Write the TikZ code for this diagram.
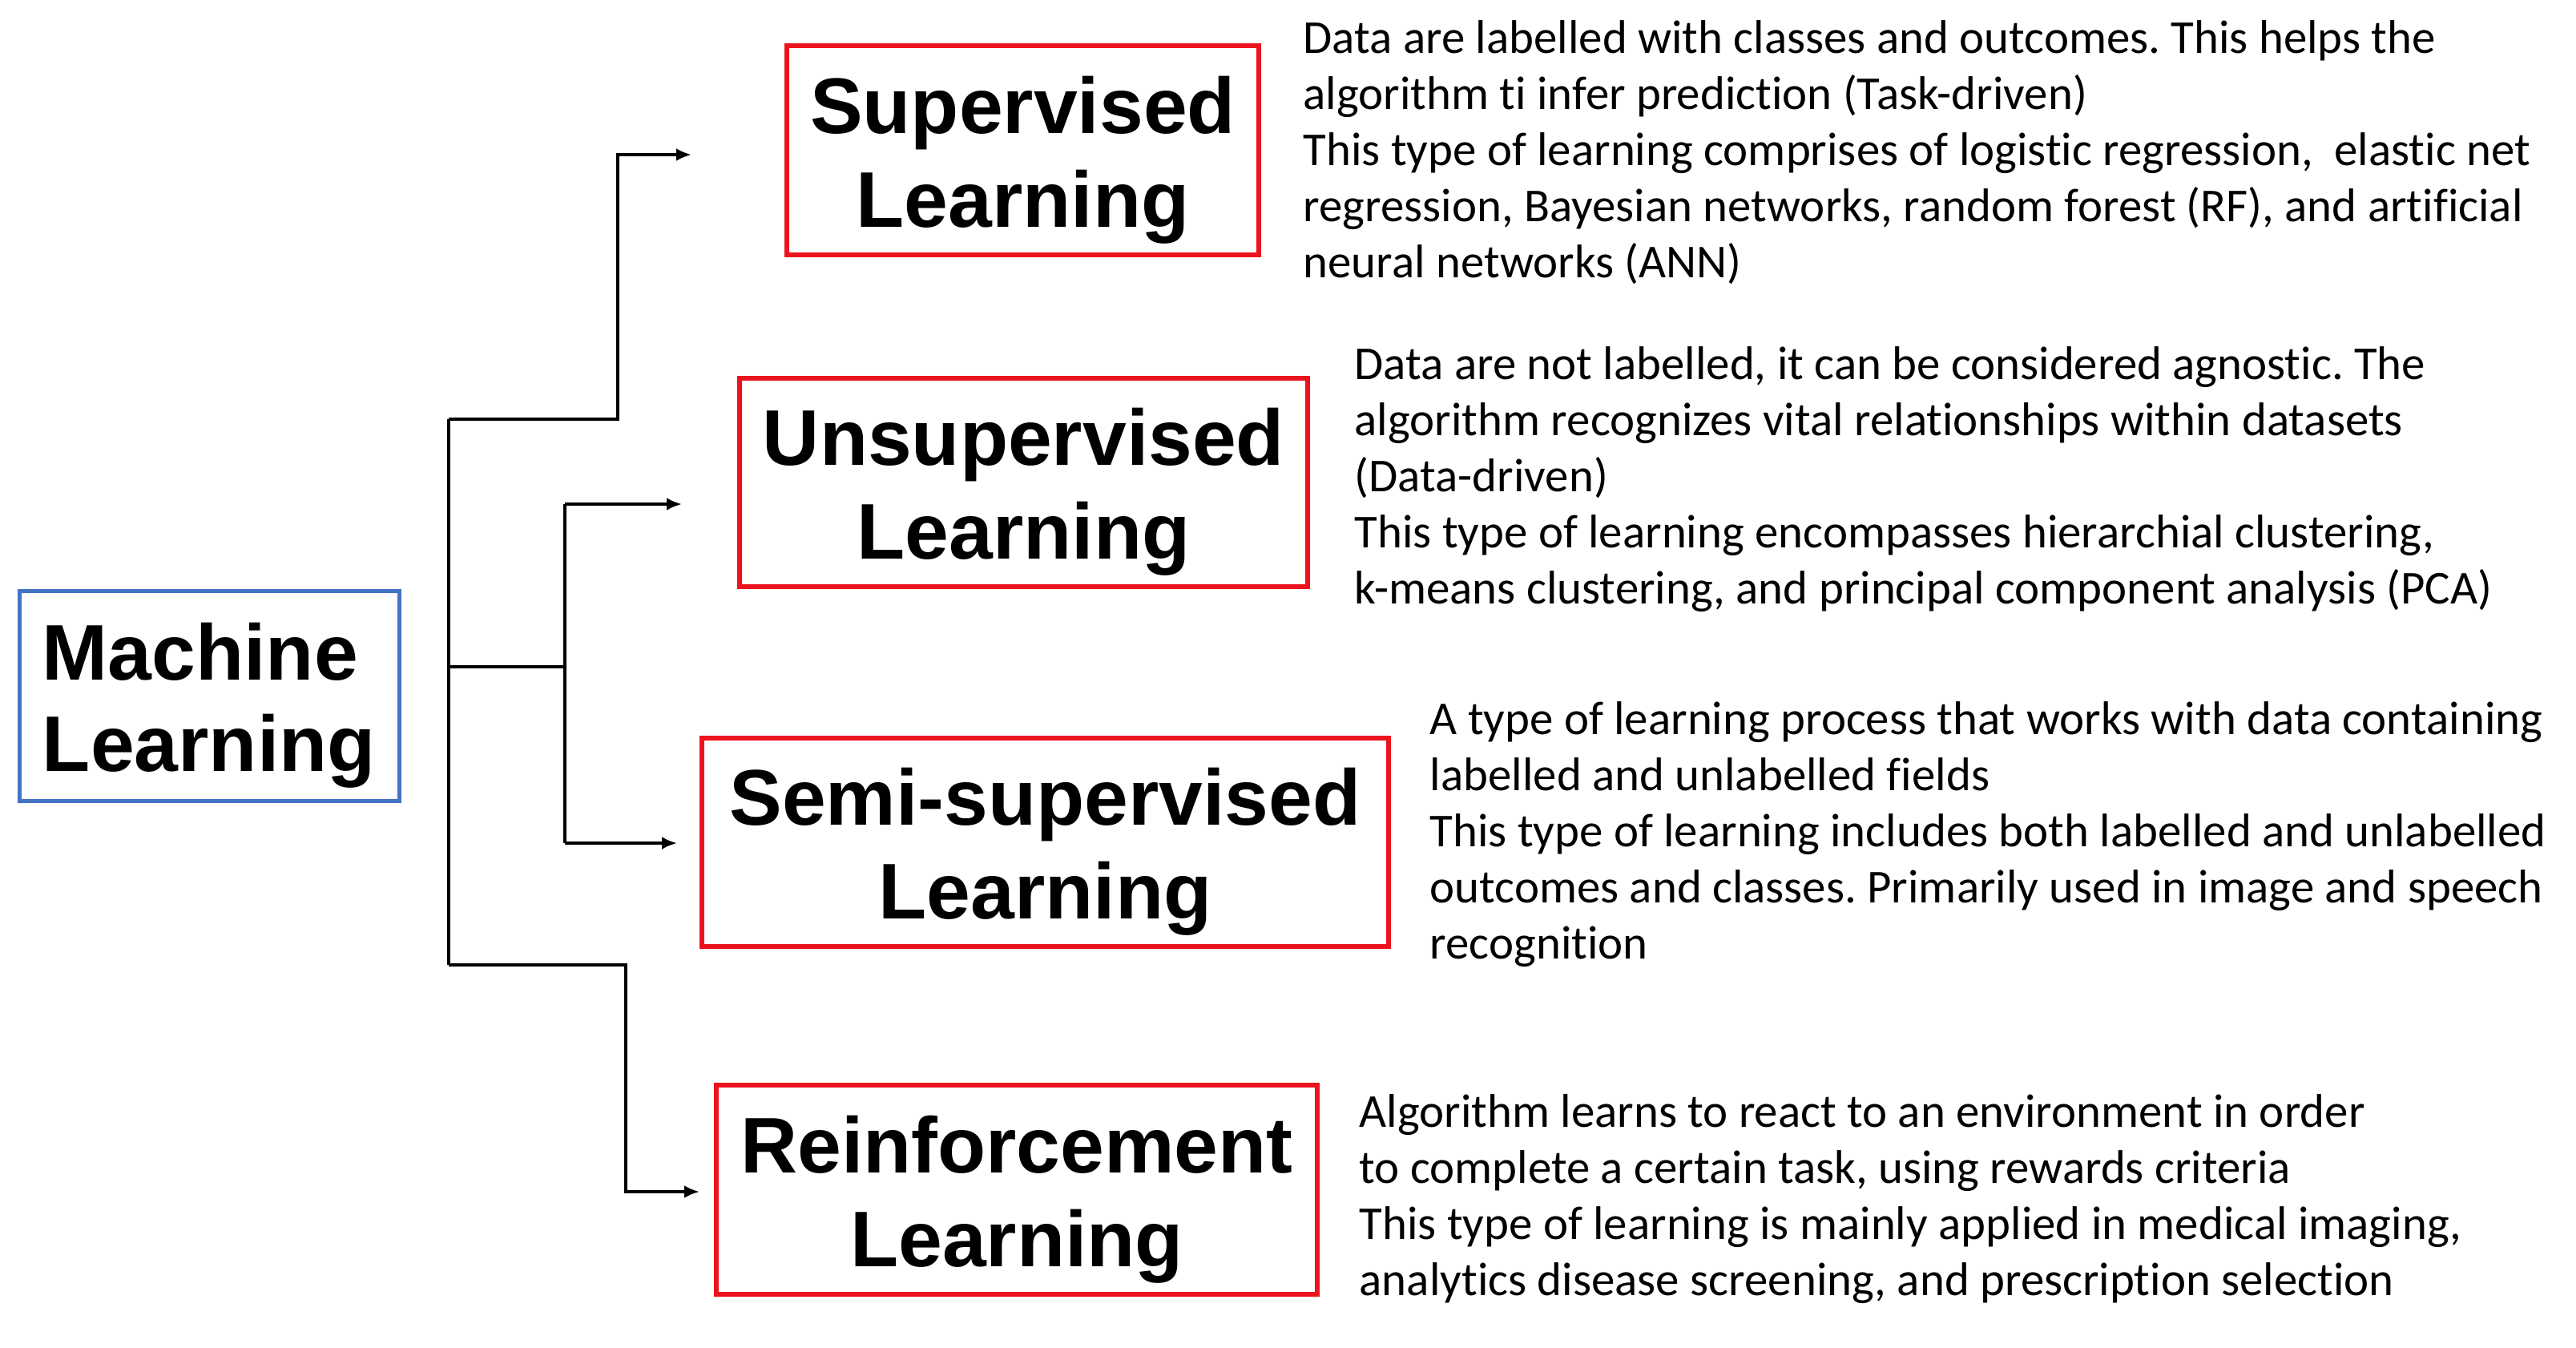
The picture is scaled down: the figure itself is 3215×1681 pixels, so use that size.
\documentclass[tikz,border=0pt]{standalone}
\usepackage{fontspec}
\setmainfont{Carlito}[Ligatures={NoCommon}]
\newfontfamily\boxfont{Liberation Sans}
\usetikzlibrary{arrows.meta}
\definecolor{boxred}{RGB}{235,20,30}
\definecolor{boxblue}{RGB}{68,114,196}
\newcommand{\toppad}{\rule{0pt}{0.95cm}}
\begin{document}
\frenchspacing
\begin{tikzpicture}[x=0.01cm,y=-0.01cm,
  catbox/.style={draw=boxred,line width=1.7pt,align=center,inner sep=0pt,
    minimum height=2.6cm,font=\boxfont\bfseries\fontsize{28}{33.3}\selectfont},
  rootbox/.style={draw=boxblue,line width=1.4pt,align=left,inner sep=0pt,
    minimum width=4.73cm,minimum height=2.61cm,text width=4.17cm,
    font=\boxfont\bfseries\fontsize{28}{32.6}\selectfont},
  desc/.style={anchor=west,align=left,inner sep=0pt,
    font=\fontsize{16.75}{19.92}\selectfont},
  conn/.style={line width=1.3pt},
  arr/.style={conn,-{Latex[length=0.19cm,width=0.16cm]}}]
\useasboundingbox (0,0) rectangle (3215,1681);
\fill[white] (0,0) rectangle (3215,1681);

% root
\node[rootbox] (ml) at (261.5,868.5) {\toppad Machine\\Learning};

% category boxes
\node[catbox,minimum width=5.89cm] (sup) at (1276.5,187.5) {\toppad Supervised\\Learning};
\node[catbox,minimum width=7.09cm] (uns) at (1277.5,602) {\toppad Unsupervised\\Learning};
\node[catbox,minimum width=8.57cm] (semi) at (1304.5,1051) {\toppad Semi-supervised\\Learning};
\node[catbox,minimum width=7.50cm] (rein) at (1269,1484.5) {\toppad Reinforcement\\Learning};

% connector coordinates
\coordinate (ttop) at (560,523);
\coordinate (tmid) at (560,832);
\coordinate (tbot) at (560,1204);
\coordinate (supA) at (771,523);
\coordinate (supB) at (771,193);
\coordinate (supE) at (863,193);
\coordinate (vmid) at (705,832);
\coordinate (vtop) at (705,629);
\coordinate (vbot) at (705,1052);
\coordinate (unsE) at (851,629);
\coordinate (semiE) at (845,1052);
\coordinate (reA) at (781,1204);
\coordinate (reB) at (781,1487);
\coordinate (reE) at (873,1487);

\draw[conn] (ttop) -- (tbot);
\draw[arr] (ttop) -- (supA) -- (supB) -- (supE);
\draw[conn] (tmid) -- (vmid);
\draw[conn] (vtop) -- (vbot);
\draw[arr] (vtop) -- (unsE);
\draw[arr] (vbot) -- (semiE);
\draw[arr] (tbot) -- (reA) -- (reB) -- (reE);

% descriptions
\node[desc] (dsup) at (1626,190) {Data are labelled with classes and outcomes. This helps the\\
algorithm ti infer prediction (Task-driven)\\
This type of learning comprises of logistic regression,\ \ elastic net\\
regression, Bayesian networks, random forest (RF), and artificial\\
neural networks (ANN)};
\node[desc] (duns) at (1690,598) {Data are not labelled, it can be considered agnostic. The\\
algorithm recognizes vital relationships within datasets\\
(Data-driven)\\
This type of learning encompasses hierarchial clustering,\\
k-means clustering, and principal component analysis (PCA)};
\node[desc] (dsemi) at (1784,1041) {A type of learning process that works with data containing\\
labelled and unlabelled fields\\
This type of learning includes both labelled and unlabelled\\
outcomes and classes. Primarily used in image and speech\\
recognition};
\node[desc] (drein) at (1696,1496) {Algorithm learns to react to an environment in order\\
to complete a certain task, using rewards criteria\\
This type of learning is mainly applied in medical imaging,\\
analytics disease screening, and prescription selection};
\end{tikzpicture}
\end{document}
